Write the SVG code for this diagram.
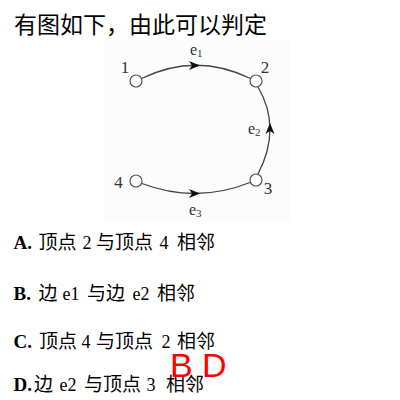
<svg xmlns="http://www.w3.org/2000/svg" width="400" height="400" viewBox="0 0 400 400">
<style>
.title{font-family:"Noto Sans CJK SC","Liberation Sans",sans-serif;font-size:23px;fill:#000}
.opt{font-family:"Liberation Serif","Noto Sans CJK SC",serif;font-size:18px;fill:#000}
.opt .k{font-weight:bold;font-size:19px}
.opt .c{font-family:"Noto Sans CJK SC",sans-serif;font-size:19px}
.lbl{font-family:"Liberation Serif",serif;font-size:17px;fill:#333}
.elbl{font-family:"Liberation Serif",serif;font-size:16px;fill:#333}
.sub{font-size:11px}
.node{fill:#fff;stroke:#555;stroke-width:1.2}
.edge{fill:none;stroke:#444;stroke-width:1.3}
.ans{font-family:"Liberation Sans",sans-serif;font-size:34px;fill:#ff0000}
</style>
<defs>
<path id="ah" d="M5,0 L-6,-4.5 L-3,0 L-6,4.5 Z" fill="#111"/>
</defs>
<rect width="400" height="400" fill="#fff"/>
<text class="title" x="14" y="33">有图如下，由此可以判定</text>
<rect x="104" y="40" width="186" height="182" fill="#fcfcfc"/>
<g id="connectors">
<g id="e1"><path class="edge" d="M141.5,78.5 Q196,52 250.5,78.5"/><use href="#ah" transform="translate(195,65.5)"/></g>
<g id="e2"><path class="edge" d="M258,174 Q282,128 258,87"/><use href="#ah" transform="translate(270,128) rotate(-90)"/></g>
<g id="e3"><path class="edge" d="M142,183.5 Q196,204 250,182.5"/><use href="#ah" transform="translate(195,193.5)"/></g>
<text class="elbl" x="190" y="55">e<tspan class="sub" dy="2">1</tspan></text>
<text class="elbl" x="248" y="134">e<tspan class="sub" dy="2">2</tspan></text>
<text class="elbl" x="189" y="215">e<tspan class="sub" dy="2">3</tspan></text>
</g>
<g id="n1"><circle class="node" cx="136" cy="81" r="6"/><text class="lbl" x="125" y="73" text-anchor="middle">1</text></g>
<g id="n2"><circle class="node" cx="256" cy="81" r="6"/><text class="lbl" x="265" y="73" text-anchor="middle">2</text></g>
<g id="n3"><circle class="node" cx="256" cy="180" r="6"/><text class="lbl" x="268" y="194" text-anchor="middle">3</text></g>
<g id="n4"><circle class="node" cx="136" cy="181" r="6"/><text class="lbl" x="118.5" y="188" text-anchor="middle">4</text></g>
<text class="opt" y="249"><tspan class="k" x="13.5">A.</tspan> <tspan class="c" x="38.5">顶点</tspan> <tspan x="82.5">2</tspan> <tspan class="c" x="96">与顶点</tspan> <tspan x="159.5">4</tspan> <tspan class="c" x="177">相邻</tspan></text>
<text class="opt" y="300"><tspan class="k" x="13.5">B.</tspan> <tspan class="c" x="38.5">边</tspan> <tspan x="62.5">e1</tspan> <tspan class="c" x="87">与边</tspan> <tspan x="132.5">e2</tspan> <tspan class="c" x="157">相邻</tspan></text>
<text class="opt" y="347.5"><tspan class="k" x="13.5">C.</tspan> <tspan class="c" x="39">顶点</tspan> <tspan x="81.5">4</tspan> <tspan class="c" x="96">与顶点</tspan> <tspan x="161.5">2</tspan> <tspan class="c" x="177">相邻</tspan></text>
<text class="opt" y="390.5"><tspan class="k" x="13.5">D.</tspan> <tspan class="c" x="34">边</tspan> <tspan x="59.5">e2</tspan> <tspan class="c" x="84">与顶点</tspan> <tspan x="146.5">3</tspan> <tspan class="c" x="166">相邻</tspan></text>
<text class="ans" x="170" y="377">B D</text>
</svg>
